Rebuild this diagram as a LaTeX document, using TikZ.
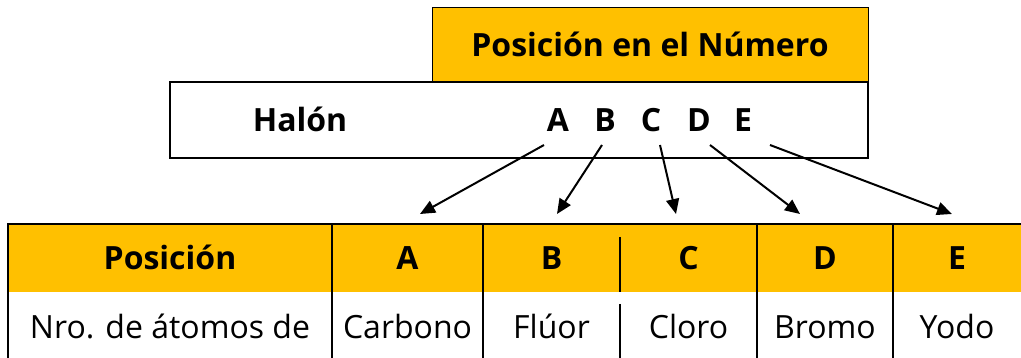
\documentclass[tikz,border=0pt]{standalone}
\usepackage{fontspec}
\setmainfont{Open Sans}
\usetikzlibrary{arrows.meta}
\definecolor{gold}{HTML}{FFC000}

\begin{document}
\begin{tikzpicture}[x=1pt, y=-1pt, font=\fontsize{32}{38}\selectfont,
    txt/.style={anchor=base, inner sep=0pt},
    bold/.style={txt, font=\fontsize{32}{38}\selectfont\bfseries},
    arr/.style={-{Triangle[length=15pt,width=13pt]}, line width=2pt},
    rule/.style={line width=1.3pt}]
    \useasboundingbox (0,0) rectangle (1021,358);

    % top boxes
    \node (pos) [draw, line width=1pt, fill=gold, minimum width=436, minimum height=74, inner sep=0pt] at (650,45) {};
    \node (halon) [draw, line width=1.5pt, fill=white, minimum width=698, minimum height=76, inner sep=0pt] at (519,120) {};
    \node (npos) [bold] at (650,57) {Posición en el Número};
    \node (nhal) [bold] at (300,132) {Halón};
    \node (la) [bold] at (558,132) {A};
    \node (lb) [bold] at (605,132) {B};
    \node (lc) [bold] at (651,132) {C};
    \node (ld) [bold] at (699,132) {D};
    \node (le) [bold] at (743,132) {E};

    % table
    \fill[gold] (8,224) rectangle (1021,292);
    \draw[rule] (8,358) -- (8,224) -- (1021,224);
    \foreach \x in {332,483,757,893}
        \draw[rule] (\x,224) -- (\x,358);
    \draw[rule] (620,237) -- (620,292) (620,304) -- (620,358);

    \node (cpos) [bold] at (170,270) {Posición};
    \node (ca) [bold] at (407.5,270) {A};
    \node (cb) [bold] at (551.5,270) {B};
    \node (cc) [bold] at (688.5,270) {C};
    \node (cd) [bold] at (825,270) {D};
    \node (ce) [bold] at (957,270) {E};

    \node (nro) [txt] at (170,338) {Nro. de átomos de};
    \node (ta) [txt] at (407.5,338) {Carbono};
    \node (tb) [txt] at (551.5,338) {Flúor};
    \node (tc) [txt] at (688.5,338) {Cloro};
    \node (td) [txt] at (825,338) {Bromo};
    \node (te) [txt] at (957,338) {Yodo};

    % arrows
    \draw[arr] ([shift={(-14,13)}]la.base) -- ([shift={(12.5,-56)}]ca.base);
    \draw[arr] ([shift={(-3,13)}]lb.base) -- ([shift={(5.5,-56)}]cb.base);
    \draw[arr] ([shift={(9,13)}]lc.base) -- ([shift={(-12.5,-56)}]cc.base);
    \draw[arr] ([shift={(11,13)}]ld.base) -- ([shift={(-25,-56)}]cd.base);
    \draw[arr] ([shift={(27,13)}]le.base) -- ([shift={(-5,-56)}]ce.base);
\end{tikzpicture}
\end{document}
